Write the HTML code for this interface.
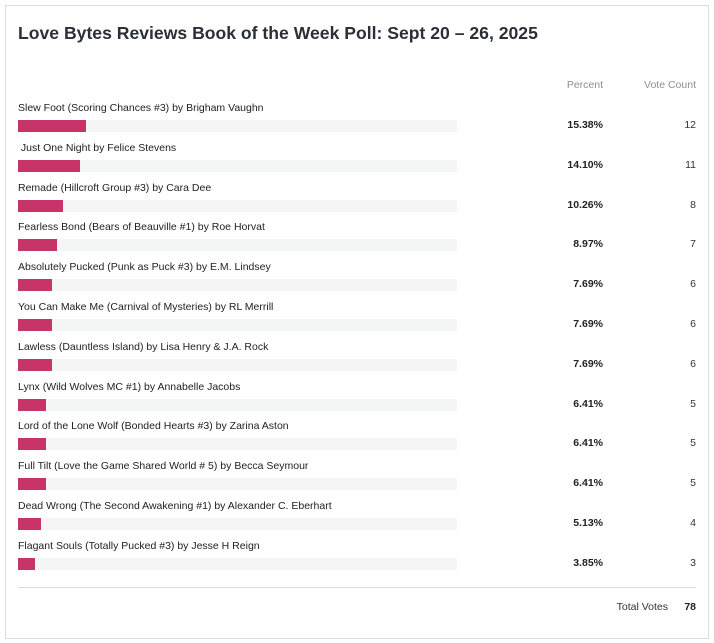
<!DOCTYPE html><html><head><style>
body{margin:0;background:#fff;font-family:"Liberation Sans",sans-serif;}
.box{position:absolute;left:5px;top:5px;width:702px;height:632px;border:1px solid #dcdcdc;}
.t{position:absolute;left:18px;top:23px;font-size:17.6px;font-weight:bold;color:#2b2f38;white-space:nowrap}
.h{position:absolute;top:79px;font-size:10.5px;color:#8a8f98}
.l{position:absolute;left:18px;font-size:10.5px;color:#222;white-space:nowrap}
.bg{position:absolute;left:18px;width:439px;height:12px;background:#f4f5f5}
.b{position:absolute;left:0;top:0;height:12px;background:#c8336a}
.p{position:absolute;right:111px;font-size:10.5px;font-weight:bold;color:#222}
.c{position:absolute;right:18px;font-size:10.5px;color:#333}
</style></head><body>
<div class="box"></div>
<div class="t">Love Bytes Reviews Book of the Week Poll: Sept 20 – 26, 2025</div>
<div class="h" style="right:111px">Percent</div>
<div class="h" style="right:18px">Vote Count</div>
<div id="rows"></div>
<div style="position:absolute;left:18px;top:587px;width:678px;height:1px;background:#ddd"></div>
<div style="position:absolute;right:46px;top:601px;font-size:10.5px;color:#333">Total Votes</div>
<div style="position:absolute;right:18px;top:601px;font-size:10.5px;font-weight:bold;color:#222">78</div>
<script>
var d=[["Slew Foot (Scoring Chances #3) by Brigham Vaughn",15.38,12],[" Just One Night by Felice Stevens",14.10,11],["Remade (Hillcroft Group #3) by Cara Dee",10.26,8],["Fearless Bond (Bears of Beauville #1) by Roe Horvat",8.97,7],["Absolutely Pucked (Punk as Puck #3) by E.M. Lindsey",7.69,6],["You Can Make Me (Carnival of Mysteries) by RL Merrill",7.69,6],["Lawless (Dauntless Island) by Lisa Henry &amp; J.A. Rock",7.69,6],["Lynx (Wild Wolves MC #1) by Annabelle Jacobs",6.41,5],["Lord of the Lone Wolf (Bonded Hearts #3) by Zarina Aston",6.41,5],["Full Tilt (Love the Game Shared World # 5) by Becca Seymour",6.41,5],["Dead Wrong (The Second Awakening #1) by Alexander C. Eberhart",5.13,4],["Flagant Souls (Totally Pucked #3) by Jesse H Reign",3.85,3]];
var h="";d.forEach(function(r,i){var y=102+i*39.8;
h+='<div class="l" style="top:'+y+'px">'+r[0].replace(/^ /,'&nbsp;')+'</div>';
h+='<div class="bg" style="top:'+(y+18)+'px"><div class="b" style="width:'+(r[1]*4.39).toFixed(1)+'px"></div></div>';
h+='<div class="p" style="top:'+(y+17)+'px">'+r[1].toFixed(2)+'%</div>';
h+='<div class="c" style="top:'+(y+17)+'px">'+r[2]+'</div>';});
document.getElementById("rows").innerHTML=h;
</script>
</body></html>
